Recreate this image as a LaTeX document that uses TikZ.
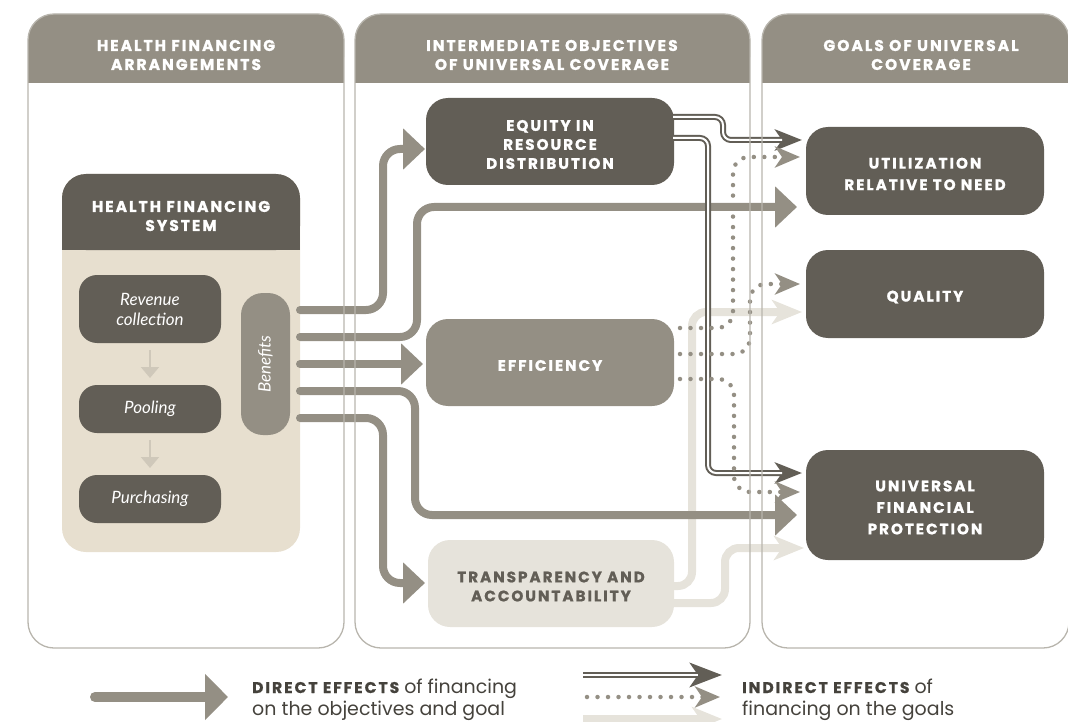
\documentclass[tikz,border=0pt]{standalone}
\usepackage{fontspec}
\setmainfont{Poppins}
\newfontfamily\capsfont{Poppins}[LetterSpace=13, BoldFeatures={FakeBold=1}]
\newfontfamily\itfont{Lato}
\newcommand\legfont{\capsfont\bfseries\fontsize{15.5}{21}\selectfont\color{ctext}}
\usetikzlibrary{arrows.meta,calc}
\definecolor{cdark}{HTML}{625E56}
\definecolor{cmid}{HTML}{948F84}
\definecolor{cbeige}{HTML}{E7DFCF}
\definecolor{clight}{HTML}{E6E3DB}
\definecolor{csmall}{HTML}{CFC8BA}
\definecolor{cline}{HTML}{B8B5AD}
\definecolor{ctext}{HTML}{45423C}
\tikzset{
  hdr/.style={font=\capsfont\bfseries\fontsize{15.5}{19}\selectfont, text=white, align=center, inner sep=0pt},
  box/.style={rectangle, rounded corners=22pt, inner sep=0pt, outer sep=0pt, align=center},
  darkbox/.style={box, fill=cdark, minimum width=248pt, minimum height=87pt},
  goalbox/.style={darkbox, minimum width=238pt, minimum height=88pt},
  boxlabel/.style={align=center, inner sep=0pt, text=white, font=\capsfont\bfseries\fontsize{15.2}{19}\selectfont},
  goallabel/.style={boxlabel, font=\capsfont\bfseries\fontsize{15.2}{21.5}\selectfont},
  sub/.style={box, fill=cdark, text=white, minimum width=142pt, minimum height=48pt, rounded corners=18pt, font=\itfont\itshape\fontsize{17}{20}\selectfont},
  small/.style={draw=csmall, line width=2pt, -{Triangle[width=18pt,length=11pt]}},
  direct/.style={draw=cmid, line width=8pt, line cap=round, rounded corners=17pt, -{Triangle[width=40pt,length=22pt]}},
  lite/.style={draw=clight, line width=8pt, rounded corners=14pt, -{Stealth[length=30pt,width=24pt,inset=8pt]}},
  dbl/.style={draw=cdark, line width=6pt, rounded corners=8pt, -{Stealth[length=27pt,width=21pt,inset=7pt]}},
  dblin/.style={draw=white, line width=2pt, rounded corners=8pt, shorten >=20pt},
  dots/.style={draw=cmid, line width=4.5pt, line cap=round, dash pattern=on 0pt off 10.5pt, rounded corners=16pt, -{Stealth[length=25pt,width=21pt,inset=7pt]}},
  panel/.style={rectangle, rounded corners=26pt, draw=cline, line width=1.3pt, inner sep=0pt},
  legtext/.style={font=\fontsize{19}{21}\selectfont, text=ctext, inner sep=0pt, anchor=base west}
}
\begin{document}
\begin{tikzpicture}[x=1pt,y=-1pt]
\useasboundingbox (0,0) rectangle (1068,722);
% panel headers
\foreach \a/\b in {28/344,355/750,762/1069} {
  \fill[cmid, rounded corners=26pt] (\a,14) rectangle (\b,83);
  \fill[cmid] (\a,50) rectangle (\b,83);
}
\node[hdr] (h1) at (186,55) {HEALTH FINANCING\\ARRANGEMENTS};
\node[hdr] (h2) at (552,55) {INTERMEDIATE OBJECTIVES\\OF UNIVERSAL COVERAGE};
\node[hdr] (h3) at (921,55) {GOALS OF UNIVERSAL\\COVERAGE};
% health financing system
\node[box, fill=cbeige, minimum width=238pt, minimum height=378pt, rounded corners=24pt] (hfs) at (181,363) {};
\fill[cdark, rounded corners=24pt] (62,174) rectangle (300,250);
\fill[cdark] (62,215) rectangle (300,250);
\node[hdr] (hfst) at (181,216) {HEALTH FINANCING\\SYSTEM};
\node[sub, minimum height=68pt] (rev) at (150,309) {Revenue\\collection};
\node[sub] (pool) at (150,409) {Pooling};
\node[sub] (purch) at (150,499) {Purchasing};
\draw[small] ([yshift=-7pt]rev.south) -- ([yshift=7pt]pool.north);
\draw[small] ([yshift=-7pt]pool.south) -- ([yshift=7pt]purch.north);
\node[box, rotate=90, fill=cmid, text=white, minimum width=142pt, minimum height=49pt, rounded corners=22pt, font=\itfont\itshape\fontsize{17}{20}\selectfont] (ben) at (265.5,364) {Benefits};
% objectives
\node[darkbox] (eq) at (550,141.5) {};
\node[boxlabel] (eqt) at ($(eq.center)+(0,3)$) {EQUITY IN\\RESOURCE\\DISTRIBUTION};
\node[darkbox, fill=cmid] (eff) at (550,362.5) {};
\node[boxlabel] (efft) at ($(eff.center)+(0,3)$) {EFFICIENCY};
\node[darkbox, fill=clight, minimum width=246pt] (tr) at (551,583.5) {};
\node[boxlabel, text=cdark] (trt) at ($(tr.center)+(0,3)$) {TRANSPARENCY AND\\ACCOUNTABILITY};
% goals
\node[goalbox] (util) at (925,171) {};
\node[goallabel] (utilt) at ($(util.center)+(0,3)$) {UTILIZATION\\RELATIVE TO NEED};
\node[goalbox] (qual) at (925,294) {};
\node[goallabel] (qualt) at ($(qual.center)+(0,3)$) {QUALITY};
\node[goalbox, minimum height=110pt] (ufp) at (925,505) {};
\node[goallabel] (ufpt) at ($(ufp.center)+(0,2.5)$) {UNIVERSAL\\FINANCIAL\\PROTECTION};
% start points of direct effects
\coordinate (s1) at ($(ben.center)+(34.5,-54)$);
\coordinate (s2) at ($(ben.center)+(34.5,-27)$);
\coordinate (s3) at ($(ben.center)+(34.5,0)$);
\coordinate (s4) at ($(ben.center)+(34.5,27)$);
\coordinate (s5) at ($(ben.center)+(34.5,54)$);
% light indirect
\draw[lite] ($(tr.east)+(-2,2.5)$) -- (692,586) -- (692,312) -- ($(qual.west)+(-4,18)$);
\draw[lite] ($(tr.east)+(-2,19.5)$) -- (725,603) -- (725,548) -- ($(ufp.west)+(-2,43)$);
% direct
\draw[direct] (s1) -- (383,310) -- (383,149) -- ($(eq.west)+(-1,7.5)$);
\draw[direct] (s2) -- (417,337) -- (417,207) -- ($(util.west)+(-9,36)$);
\draw[direct] (s3) -- ($(eff.west)+(-3,1.5)$);
\draw[direct] (s4) -- (415,391) -- (415,515) -- ($(ufp.west)+(-9,10)$);
\draw[direct] (s5) -- (383,418) -- (383,583) -- ($(tr.west)+(-3,-0.5)$);
% double indirect
\draw[dbl] ($(eq.east)+(-1,-24.5)$) -- (723,117) -- (723,140) -- ($(util.west)+(-4,-31)$);
\draw[dblin] ($(eq.east)+(-1,-24.5)$) -- (723,117) -- (723,140) -- ($(util.west)+(-4,-31)$);
\draw[dbl] ($(eq.east)+(-1,-3.5)$) -- (708,138) -- (708,473) -- ($(ufp.west)+(-4,-32)$);
\draw[dblin] ($(eq.east)+(-1,-3.5)$) -- (708,138) -- (708,473) -- ($(ufp.west)+(-4,-32)$);
% dotted indirect
\draw[dots] ($(eff.east)+(6,-34.5)$) -- (733,328) -- (733,157) -- ($(util.west)+(-6,-14)$);
\draw[dots] ($(eff.east)+(6,-8.5)$) -- (750,354) -- (750,284) -- ($(qual.west)+(-6,-10)$);
\draw[dots] ($(eff.east)+(6,16.5)$) -- (734,379) -- (734,492) -- ($(ufp.west)+(-6,-13)$);
% panel outlines
\node[panel, minimum width=316pt, minimum height=634pt] (p1) at (186,331) {};
\node[panel, minimum width=395pt, minimum height=634pt] (p2) at (552.5,331) {};
\node[panel, minimum width=307pt, minimum height=634pt] (p3) at (915.5,331) {};
% legend
\coordinate (la1) at (95,697);
\coordinate (la2) at (228,697);
\draw[direct, line width=10pt, -{Triangle[width=45pt,length=23pt]}] (la1) -- (la2);
\node[legtext] (lt1) at (252,693) {{\legfont DIRECT EFFECTS} of financing};
\node[legtext] (lt2) at (252,715) {on the objectives and goal};
\coordinate (lb1) at (583,675);
\coordinate (lb2) at (722,675);
\draw[dbl, -{Stealth[length=32pt,width=24pt,inset=8pt]}] (lb1) -- (lb2);
\draw[dblin, shorten >=24pt] (lb1) -- (lb2);
\coordinate (lc1) at (587,697);
\coordinate (lc2) at (720,697);
\draw[dots] (lc1) -- (lc2);
\coordinate (ld1) at (583,719);
\coordinate (ld2) at (722,719);
\draw[lite] (ld1) -- (ld2);
\node[legtext] (lt3) at (742,693) {{\legfont INDIRECT EFFECTS} of};
\node[legtext] (lt4) at (742,715) {financing on the goals};
\end{tikzpicture}
\end{document}
